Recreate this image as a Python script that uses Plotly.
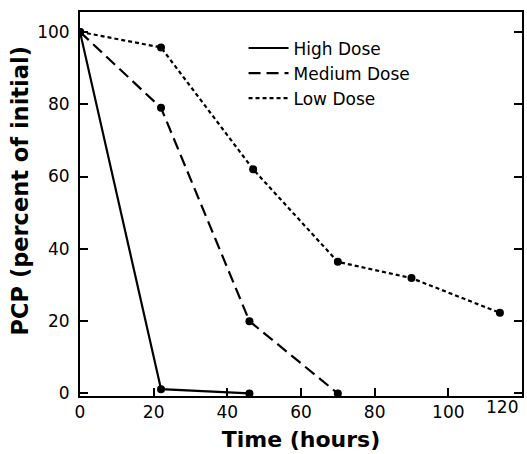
import plotly.graph_objects as go

high_t = [0, 22, 46]
high_v = [100, 1.2, 0]
med_t = [0, 22, 46, 70]
med_v = [100, 79, 20, 0]
low_t = [0, 22, 47, 70, 90, 114]
low_v = [100, 95.7, 62, 36.4, 31.9, 22.3]

x_ticks = [0, 20, 40, 60, 80, 100, 120]
x_labels = ["0", "20", "40", "60", "80", "100", "120"]
y_ticks = [0, 20, 40, 60, 80, 100]
y_labels = ["0", "20", "40", "60", "80", "100"]
x_title = "Time (hours)"
y_title = "PCP (percent of initial)"

series = [
    ("High Dose", high_t, high_v, "solid"),
    ("Medium Dose", med_t, med_v, "12px,6px"),
    ("Low Dose", low_t, low_v, "4px,3px"),
]

FONT = "DejaVu Sans, Liberation Sans, Arial, sans-serif"

fig = go.Figure()
for name, t, v, dash in series:
    fig.add_trace(go.Scatter(
        x=t, y=v, mode="lines", name=name,
        line=dict(color="black", width=2.2, dash=dash),
    ))
for name, t, v, dash in series:
    fig.add_trace(go.Scatter(
        x=t, y=v, mode="markers", showlegend=False,
        marker=dict(color="black", size=8),
    ))

# last x tick label sits inside the right edge, slightly raised (as in the original)
shown_x_labels = x_labels[:-1] + [""]
fig.add_annotation(
    x=x_ticks[-1], xref="x", y=0, yref="paper",
    text=x_labels[-1], showarrow=False,
    xanchor="right", yanchor="middle", xshift=-2, yshift=-11,
    font=dict(size=17),
)
fig.add_annotation(
    x=-0.136, xref="paper", y=0.535, yref="paper",
    text="<b>" + y_title + "</b>", showarrow=False, textangle=-90,
    xanchor="center", yanchor="middle", font=dict(size=22.5),
)

fig.update_layout(
    width=527, height=454,
    margin=dict(l=80, r=5, t=12, b=58),
    plot_bgcolor="white", paper_bgcolor="white",
    font=dict(family=FONT, color="black", size=15),
    legend=dict(
        x=0.37, y=0.952, xanchor="left", yanchor="top",
        bgcolor="rgba(0,0,0,0)", font=dict(size=17),
        tracegroupgap=0, itemwidth=40,
    ),
    xaxis=dict(
        range=[0, 120], tickvals=x_ticks, ticktext=shown_x_labels,
        ticks="inside", ticklen=8, tickwidth=2, tickcolor="black",
        showline=True, linecolor="black", linewidth=2, mirror=True,
        showgrid=False, zeroline=False,
        automargin=False,
        title=dict(text="<b>" + x_title + "</b>", font=dict(size=22), standoff=10),
        tickfont=dict(size=17),
    ),
    yaxis=dict(
        range=[-0.7, 105.5], tickvals=y_ticks, ticktext=y_labels,
        ticks="inside", ticklen=8, tickwidth=2, tickcolor="black",
        showline=True, linecolor="black", linewidth=2, mirror="ticks",
        showgrid=False, zeroline=False, ticklabelstandoff=5,
        automargin=False,
        tickfont=dict(size=17),
    ),
)

fig.write_html(
    "out.html",
    config={"displayModeBar": False},
    post_script="document.body.style.margin='0';document.body.style.overflow='hidden';",
)
